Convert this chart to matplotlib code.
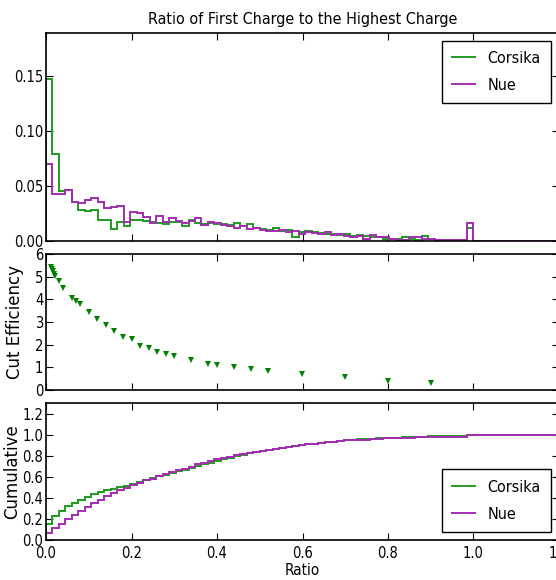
import numpy as np
import matplotlib
matplotlib.use('Agg')
import matplotlib.pyplot as plt
from matplotlib.lines import Line2D

plt.rcParams['font.family'] = 'DejaVu Sans'
plt.rcParams['font.stretch'] = 'condensed'

# histogram bins (ratio 0..1, 66 bins) + empty tail so the cumulative runs flat to the edge
bin_edges = np.linspace(0, 1, 67)
tail_edges = np.append(bin_edges, 1.5)

corsika = [0.148, 0.079, 0.045, 0.046, 0.035, 0.028, 0.027, 0.028, 0.019, 0.019,
           0.011, 0.017, 0.013, 0.019, 0.019, 0.018, 0.017, 0.016, 0.015, 0.017,
           0.017, 0.013, 0.019, 0.016, 0.015, 0.016, 0.015, 0.015, 0.014, 0.016,
           0.013, 0.015, 0.012, 0.011, 0.010, 0.012, 0.009, 0.010, 0.003, 0.008,
           0.009, 0.008, 0.007, 0.006, 0.006, 0.005, 0.006, 0.004, 0.005, 0.004,
           0.003, 0.003, 0.002, 0.002, 0.002, 0.003, 0.002, 0.001, 0.004, 0.002,
           0.001, 0.001, 0.0005, 0.0005, 0.0005, 0.012]
nue = [0.070, 0.043, 0.043, 0.046, 0.035, 0.034, 0.037, 0.039, 0.035, 0.030,
       0.031, 0.032, 0.017, 0.026, 0.025, 0.022, 0.016, 0.023, 0.017, 0.021,
       0.018, 0.016, 0.018, 0.021, 0.014, 0.017, 0.016, 0.014, 0.013, 0.012,
       0.013, 0.011, 0.012, 0.010, 0.009, 0.009, 0.010, 0.008, 0.009, 0.006,
       0.008, 0.007, 0.006, 0.008, 0.005, 0.006, 0.004, 0.003, 0.004, 0.002,
       0.005, 0.003, 0.003, 0.002, 0.001, 0.001, 0.003, 0.003, 0.002, 0.002,
       0.001, 0.0008, 0.0005, 0.0005, 0.0005, 0.016]

cut_ratio = [0.012, 0.014, 0.016, 0.018, 0.02, 0.03, 0.04, 0.06, 0.07, 0.08,
             0.10, 0.12, 0.14, 0.16, 0.18, 0.20, 0.22, 0.24, 0.26, 0.28,
             0.30, 0.34, 0.38, 0.40, 0.44, 0.48, 0.52, 0.60, 0.70, 0.80, 0.90]
cut_eff = [5.44, 5.34, 5.24, 5.12, 5.03, 4.79, 4.51, 4.07, 3.91, 3.78,
           3.44, 3.12, 2.85, 2.60, 2.32, 2.25, 1.93, 1.87, 1.69, 1.59,
           1.51, 1.34, 1.15, 1.12, 1.01, 0.91, 0.84, 0.69, 0.57, 0.41, 0.29]

green = '#1f9a1f'
purple = '#a22db0'
tick_size = 10.5

fig = plt.figure(figsize=(5.56, 5.8), dpi=100)
fig.patch.set_facecolor('white')

left, width = 46 / 556, 513 / 556
ax1 = fig.add_axes([left, 1 - 240.7 / 580, width, 208 / 580])
ax2 = fig.add_axes([left, 1 - 390 / 580, width, 136 / 580])
ax3 = fig.add_axes([left, 1 - 540 / 580, width, 136.7 / 580])

mids = (bin_edges[:-1] + bin_edges[1:]) / 2
c_arr = np.array(corsika)
n_arr = np.array(nue)

handles = [Line2D([], [], color=green, lw=1.4), Line2D([], [], color=purple, lw=1.4)]
leg_kw = dict(fontsize=11.5, fancybox=False, edgecolor='black', framealpha=1,
              handlelength=1.4, handletextpad=0.8, borderaxespad=0.5,
              borderpad=0.65, labelspacing=0.75)

ax1.hist(mids, bins=tail_edges, weights=c_arr, histtype='step', color=green, lw=1.4)
ax1.hist(mids, bins=tail_edges, weights=n_arr, histtype='step', color=purple, lw=1.4)
ax1.set_ylim(0, 0.19)
ax1.set_yticks([0.0, 0.05, 0.10, 0.15])
ax1.set_yticklabels(['0.00', '0.05', '0.10', '0.15'])
ax1.set_title('Ratio of First Charge to the Highest Charge', fontsize=11.5, pad=6)
ax1.legend(handles, ['Corsika', 'Nue'], loc='upper right', **leg_kw)

ax2.plot(cut_ratio, cut_eff, 'v', color='#008000', markersize=4.8, markeredgewidth=0)
ax2.set_ylim(0, 6)
ax2.set_yticks(range(0, 7))
ax2.set_ylabel('Cut Efficiency', fontsize=12, fontstretch='normal')

ax3.hist(mids, bins=tail_edges, weights=c_arr / c_arr.sum(), cumulative=True, histtype='step',
         color=green, lw=1.4)
ax3.hist(mids, bins=tail_edges, weights=n_arr / n_arr.sum(), cumulative=True, histtype='step',
         color=purple, lw=1.4)
ax3.set_ylim(0, 1.3)
ax3.set_yticks(np.arange(0, 1.21, 0.2))
ax3.set_yticklabels(['0.0', '0.2', '0.4', '0.6', '0.8', '1.0', '1.2'])
ax3.set_ylabel('Cumulative', fontsize=12, fontstretch='normal')
ax3.set_xlabel('Ratio', fontsize=11, labelpad=2)
ax3.legend(handles, ['Corsika', 'Nue'], loc='lower right', **leg_kw)

for ax in (ax1, ax2, ax3):
    ax.set_xlim(0, 1.2)
    ax.set_xticks(np.arange(0, 1.21, 0.2))
    ax.tick_params(direction='in', top=True, right=True, length=5, width=0.8,
                   labelsize=tick_size, pad=2)
    for sp in ax.spines.values():
        sp.set_linewidth(1.2)
ax1.set_xticklabels([])
ax2.set_xticklabels([])
ax3.set_xticklabels(['0.0', '0.2', '0.4', '0.6', '0.8', '1.0', '1.2'])
ax3.tick_params(axis='x', pad=4)
ax2.yaxis.set_label_coords(-0.042, 0.5)
ax3.yaxis.set_label_coords(-0.048, 0.5)

fig.savefig('out.png', dpi=100)
